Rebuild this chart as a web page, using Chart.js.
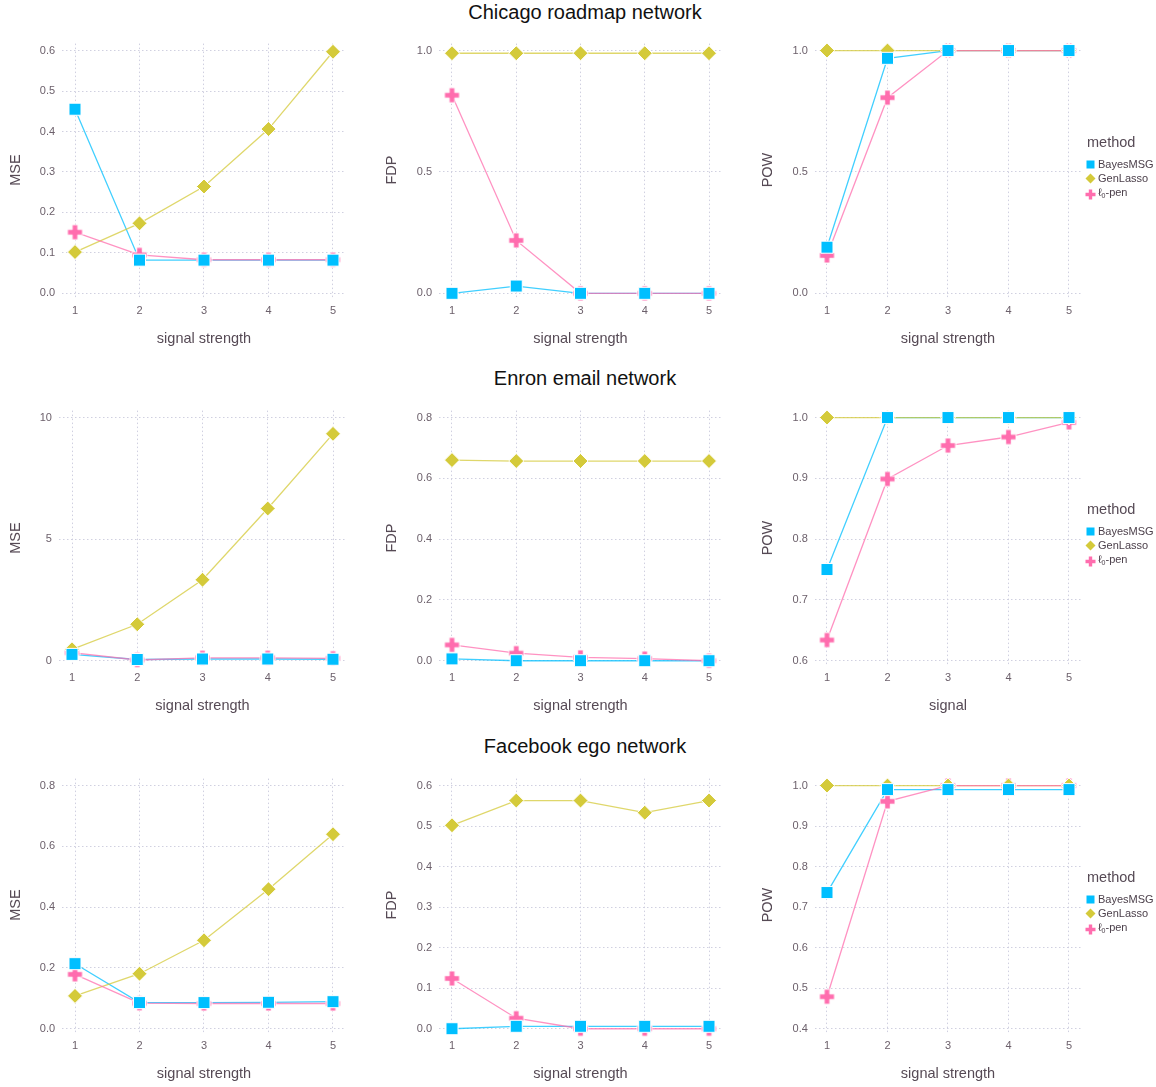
<!DOCTYPE html>
<html>
<head>
<meta charset="utf-8">
<title>Method comparison</title>
<script src="https://cdn.jsdelivr.net/npm/chart.js@4.4.0/dist/chart.umd.min.js"></script>
<style>
  body { margin: 0; background: #fff; }
  #page { position: relative; width: 1156px; height: 1087px; overflow: hidden;
          font-family: "Liberation Sans", Arial, sans-serif; }
  #page canvas { position: absolute; }
  .row-title { position: absolute; left: 0; width: 1170px; text-align: center;
               font-size: 20px; line-height: 24px; color: #111; }
  .axis-title { position: absolute; width: 200px; text-align: center; font-size: 14.5px;
                line-height: 18px; color: #564A55; white-space: nowrap; }
  .key-head { position: absolute; left: 1087px; font-size: 14.5px; line-height: 18px; color: #564A55; }
  .key-item { position: absolute; left: 1085px; font-size: 11px; line-height: 14px; color: #4C404B;
              display: flex; align-items: center; white-space: nowrap; }
  .key-item svg { width: 11px; height: 11px; margin-right: 2px; }
  .key-item sub { font-size: 7px; vertical-align: -2px; }
</style>
</head>
<body>
<div id="page"></div>
<script>
const FONT = '"Liberation Sans", Arial, sans-serif';

const signal = [1, 2, 3, 4, 5];
const xTickLabels = ["1", "2", "3", "4", "5"];
const methodColors = ["#00BFFF", "#D4CA3A", "#FF6DAE"];
const rowTitles = ["Chicago roadmap network", "Enron email network", "Facebook ego network"];

// Chicago roadmap network
const chicagoMseBayes = [0.455, 0.082, 0.082, 0.082, 0.082];
const chicagoMseGen   = [0.102, 0.173, 0.264, 0.406, 0.597];
const chicagoMseL0    = [0.151, 0.095, 0.083, 0.083, 0.083];
const chicagoFdpBayes = [0.0, 0.03, 0.0, 0.0, 0.0];
const chicagoFdpGen   = [0.989, 0.989, 0.989, 0.989, 0.989];
const chicagoFdpL0    = [0.816, 0.218, 0.0, 0.0, 0.0];
const chicagoPowBayes = [0.19, 0.968, 1.0, 1.0, 1.0];
const chicagoPowGen   = [1.0, 1.0, 1.0, 1.0, 1.0];
const chicagoPowL0    = [0.156, 0.806, 1.0, 1.0, 1.0];

// Enron email network
const enronMseBayes = [0.26, 0.05, 0.07, 0.07, 0.06];
const enronMseGen   = [0.47, 1.5, 3.33, 6.26, 9.33];
const enronMseL0    = [0.33, 0.03, 0.12, 0.12, 0.1];
const enronFdpBayes = [0.006, 0.0, 0.0, 0.0, 0.0];
const enronFdpGen   = [0.66, 0.657, 0.657, 0.657, 0.657];
const enronFdpL0    = [0.052, 0.025, 0.011, 0.007, 0.0];
const enronPowBayes = [0.75, 1.0, 1.0, 1.0, 1.0];
const enronPowGen   = [1.0, 1.0, 1.0, 1.0, 1.0];
const enronPowL0    = [0.634, 0.899, 0.954, 0.968, 0.992];

// Facebook ego network
const fbMseBayes = [0.214, 0.086, 0.086, 0.087, 0.089];
const fbMseGen   = [0.108, 0.181, 0.291, 0.459, 0.640];
const fbMseL0    = [0.179, 0.084, 0.083, 0.083, 0.083];
const fbFdpBayes = [0.0, 0.006, 0.006, 0.006, 0.006];
const fbFdpGen   = [0.502, 0.563, 0.563, 0.533, 0.563];
const fbFdpL0    = [0.124, 0.026, 0.0, 0.0, 0.0];
const fbPowBayes = [0.736, 0.99, 0.99, 0.99, 0.99];
const fbPowGen   = [1.0, 1.0, 1.0, 1.0, 1.0];
const fbPowL0    = [0.479, 0.961, 1.0, 1.0, 1.0];

// y tick labels per panel
const chicagoMseTicks = ["0.0", "0.1", "0.2", "0.3", "0.4", "0.5", "0.6"];
const chicagoFdpTicks = ["0.0", "0.5", "1.0"];
const chicagoPowTicks = ["0.0", "0.5", "1.0"];
const enronMseTicks = ["0", "5", "10"];
const enronFdpTicks = ["0.0", "0.2", "0.4", "0.6", "0.8"];
const enronPowTicks = ["0.6", "0.7", "0.8", "0.9", "1.0"];
const fbMseTicks = ["0.0", "0.2", "0.4", "0.6", "0.8"];
const fbFdpTicks = ["0.0", "0.1", "0.2", "0.3", "0.4", "0.5", "0.6"];
const fbPowTicks = ["0.4", "0.5", "0.6", "0.7", "0.8", "0.9", "1.0"];

const panels = [
  { row: 0, col: 0, yTitle: "MSE", xTitle: "signal strength", ticks: chicagoMseTicks, series: [chicagoMseBayes, chicagoMseGen, chicagoMseL0] },
  { row: 0, col: 1, yTitle: "FDP", xTitle: "signal strength", ticks: chicagoFdpTicks, series: [chicagoFdpBayes, chicagoFdpGen, chicagoFdpL0] },
  { row: 0, col: 2, yTitle: "POW", xTitle: "signal strength", ticks: chicagoPowTicks, series: [chicagoPowBayes, chicagoPowGen, chicagoPowL0] },
  { row: 1, col: 0, yTitle: "MSE", xTitle: "signal strength", ticks: enronMseTicks, series: [enronMseBayes, enronMseGen, enronMseL0] },
  { row: 1, col: 1, yTitle: "FDP", xTitle: "signal strength", ticks: enronFdpTicks, series: [enronFdpBayes, enronFdpGen, enronFdpL0] },
  { row: 1, col: 2, yTitle: "POW", xTitle: "signal", ticks: enronPowTicks, series: [enronPowBayes, enronPowGen, enronPowL0] },
  { row: 2, col: 0, yTitle: "MSE", xTitle: "signal strength", ticks: fbMseTicks, series: [fbMseBayes, fbMseGen, fbMseL0] },
  { row: 2, col: 1, yTitle: "FDP", xTitle: "signal strength", ticks: fbFdpTicks, series: [fbFdpBayes, fbFdpGen, fbFdpL0] },
  { row: 2, col: 2, yTitle: "POW", xTitle: "signal strength", ticks: fbPowTicks, series: [fbPowBayes, fbPowGen, fbPowL0] }
];

// page layout (pixels)
const rowBoxes = [
  { titleY: 12,  canvasTop: 30,  canvasBottom: 360,  tickTop: 49,    tickBottom: 293.3,  xTitleY: 338 },
  { titleY: 378, canvasTop: 397, canvasBottom: 727,  tickTop: 416.3, tickBottom: 660.7,  xTitleY: 705 },
  { titleY: 746, canvasTop: 765, canvasBottom: 1085, tickTop: 784,   tickBottom: 1028.7, xTitleY: 1073 }
];
const colBoxes = [
  { canvasLeft: 0,   canvasRight: 360,  yTitleX: 15 },
  { canvasLeft: 376, canvasRight: 740,  yTitleX: 391 },
  { canvasLeft: 752, canvasRight: 1100, yTitleX: 767 }
];
const tickXs = [
  [[75, 333], [452, 709], [827, 1069]],
  [[72, 333], [452, 709], [827, 1069]],
  [[75, 333], [452, 709], [827, 1069]]
];

function plusMarker(size, arm, color) {
  const c = document.createElement("canvas");
  c.width = size; c.height = size;
  const g = c.getContext("2d");
  const m = size / 2, a = arm / 2, e = size / 2 - 1;
  g.beginPath();
  g.moveTo(m - a, m - e); g.lineTo(m + a, m - e); g.lineTo(m + a, m - a);
  g.lineTo(m + e, m - a); g.lineTo(m + e, m + a); g.lineTo(m + a, m + a);
  g.lineTo(m + a, m + e); g.lineTo(m - a, m + e); g.lineTo(m - a, m + a);
  g.lineTo(m - e, m + a); g.lineTo(m - e, m - a); g.lineTo(m - a, m - a);
  g.closePath();
  g.fillStyle = color;
  g.fill();
  g.strokeStyle = "rgba(255,255,255,0.9)";
  g.lineWidth = 1;
  g.stroke();
  return c;
}

const plusImg = plusMarker(17, 5.5, methodColors[2]);
const pointStyles = [
  { pointStyle: "rect", pointRadius: 8.5 },
  { pointStyle: "rectRot", pointRadius: 7.5 },
  { pointStyle: plusImg, pointRadius: 7 }
];
// higher order is drawn first: lines sit under the points,
// pink line over the yellow one over the blue one; blue squares on top
const lineOrder = [5, 4, 3];
const pointOrder = [0, 1, 2];

function lineColor(hex, alpha) {
  const n = parseInt(hex.slice(1), 16);
  return `rgba(${(n >> 16) & 255},${(n >> 8) & 255},${n & 255},${alpha})`;
}

const page = document.getElementById("page");

function addText(cls, text, left, top, rotate) {
  const d = document.createElement("div");
  d.className = cls;
  d.textContent = text;
  d.style.left = left + "px";
  d.style.top = top + "px";
  if (rotate) d.style.transform = "rotate(-90deg)";
  page.appendChild(d);
  return d;
}

rowTitles.forEach((t, r) => {
  addText("row-title", t, 0, rowBoxes[r].titleY - 12);
});

function drawPanel(p) {
  const rb = rowBoxes[p.row], cb = colBoxes[p.col];
  const [x1, x5] = tickXs[p.row][p.col];
  const unit = (x5 - x1) / 4;
  const chartLeft = x1 - 0.2 * unit, chartRight = x5 + 0.2 * unit;
  const chartTop = rb.tickTop - 7, chartBottom = rb.tickBottom + 5;
  const tickVals = p.ticks.map(Number);
  const lo = tickVals[0], hi = tickVals[tickVals.length - 1];
  const ppu = (rb.tickBottom - rb.tickTop) / (hi - lo);

  const canvas = document.createElement("canvas");
  const w = cb.canvasRight - cb.canvasLeft, h = rb.canvasBottom - rb.canvasTop;
  canvas.width = w; canvas.height = h;
  canvas.style.left = cb.canvasLeft + "px";
  canvas.style.top = rb.canvasTop + "px";
  canvas.style.width = w + "px"; canvas.style.height = h + "px";
  page.appendChild(canvas);

  // axis titles
  addText("axis-title", p.xTitle, (chartLeft + chartRight) / 2 - 100, rb.xTitleY - 9);
  addText("axis-title", p.yTitle, cb.yTitleX - 100, (chartTop + chartBottom) / 2 - 9, true);

  const datasets = [];
  p.series.forEach((vals, i) => {
    const pts = signal.map((s, k) => ({ x: s, y: vals[k] }));
    datasets.push({
      data: pts, showLine: true, pointRadius: 0, pointHoverRadius: 0,
      borderColor: lineColor(methodColors[i], 0.75), borderWidth: 1.3,
      order: lineOrder[i], clip: false
    });
    datasets.push({
      data: pts, showLine: false,
      pointStyle: pointStyles[i].pointStyle, pointRadius: pointStyles[i].pointRadius,
      pointHoverRadius: pointStyles[i].pointRadius,
      backgroundColor: methodColors[i], borderColor: "#fff", borderWidth: 1,
      order: pointOrder[i], clip: false
    });
  });

  new Chart(canvas, {
    type: "scatter",
    data: { datasets },
    options: {
      responsive: false,
      animation: false,
      events: [],
      layout: { padding: { top: chartTop - rb.canvasTop, right: cb.canvasRight - chartRight, left: 0, bottom: 0 } },
      plugins: { legend: { display: false }, tooltip: { enabled: false } },
      scales: {
        x: {
          type: "linear", min: 0.8, max: 5.2,
          afterBuildTicks: s => { s.ticks = signal.map(v => ({ value: v })); },
          afterFit: s => { s.height = rb.canvasBottom - chartBottom; },
          grid: { color: "#D0D0E0", lineWidth: 1, drawTicks: false },
          border: { display: false, dash: [1.5, 2.5] },
          ticks: { padding: 6, color: "#6C606B", font: { size: 11, family: FONT },
                   maxRotation: 0, callback: (v, i) => xTickLabels[i] }
        },
        y: {
          type: "linear", min: lo - 5 / ppu, max: hi + 7 / ppu,
          afterBuildTicks: s => { s.ticks = tickVals.map(v => ({ value: v })); },
          afterFit: s => { s.width = chartLeft - cb.canvasLeft; },
          grid: { color: "#D0D0E0", lineWidth: 1, drawTicks: false },
          border: { display: false, dash: [1.5, 2.5] },
          ticks: { padding: 7, color: "#6C606B", font: { size: 11, family: FONT },
                   callback: (v, i) => p.ticks[i] }
        }
      }
    }
  });
}

panels.forEach(drawPanel);

// "method" key beside each row
const keyIcons = [
  '<svg viewBox="0 0 11 11"><rect x="1.5" y="1.5" width="8" height="8" fill="#00BFFF"/></svg>',
  '<svg viewBox="0 0 11 11"><polygon points="5.5,0.5 10.5,5.5 5.5,10.5 0.5,5.5" fill="#D4CA3A"/></svg>',
  '<svg viewBox="0 0 11 11"><polygon points="3.8,0.5 7.2,0.5 7.2,3.8 10.5,3.8 10.5,7.2 7.2,7.2 7.2,10.5 3.8,10.5 3.8,7.2 0.5,7.2 0.5,3.8 3.8,3.8" fill="#FF6DAE"/></svg>'
];
const keyLabels = ["BayesMSG", "GenLasso", "ℓ<sub>0</sub>-pen"];

rowBoxes.forEach(rb => {
  const top = rb.tickTop - 7 + 100;
  addText("key-head", "method", 1087, top - 9);
  keyLabels.forEach((lab, i) => {
    const it = document.createElement("div");
    it.className = "key-item";
    it.style.top = (top + 22 + i * 14 - 7) + "px";
    it.innerHTML = keyIcons[i] + "<span>" + lab + "</span>";
    page.appendChild(it);
  });
});
</script>
</body>
</html>
